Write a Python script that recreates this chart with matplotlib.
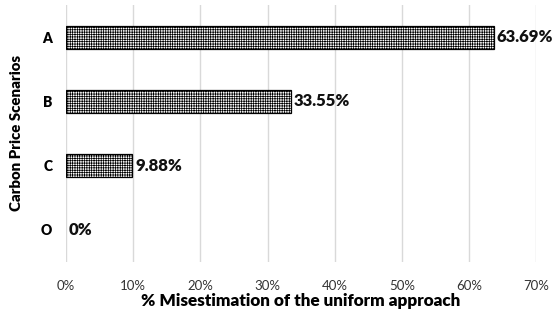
import matplotlib
matplotlib.use("Agg")
import matplotlib.pyplot as plt
from matplotlib.ticker import FuncFormatter

plt.rcParams['font.family'] = ['Lato', 'DejaVu Sans']
plt.rcParams['hatch.linewidth'] = 0.5

categories = ["A", "B", "C", "O"]
values = [63.69, 33.55, 9.88, 0.0]
labels = ["63.69%", "33.55%", "9.88%", "0%"]

fig = plt.figure(figsize=(5.55, 3.11), dpi=100)
ax = fig.add_axes([0.119, 0.158, 0.847, 0.826])

ypos = list(range(len(categories)))
bars = ax.barh(ypos, values, height=0.36, color="white", edgecolor="black",
               hatch="+++++++", linewidth=0.9, zorder=3)
for b in bars:
    if b.get_width() == 0:
        b.set_visible(False)

for y, v, lab in zip(ypos, values, labels):
    ax.text(v + 0.4, y, lab, va="center", ha="left", fontsize=12,
            fontweight="heavy", color="#111111", zorder=4)

ax.set_xlim(0, 70)
ax.set_ylim(3.5, -0.5)
ax.set_yticks(ypos)
ax.set_yticklabels(categories, fontsize=10, fontweight="heavy")
ax.set_xticks(range(0, 71, 10))
ax.xaxis.set_major_formatter(FuncFormatter(lambda x, p: f"{int(x)}%"))
ax.tick_params(axis="x", labelsize=9.5, length=0, pad=13, colors="#333333")
ax.tick_params(axis="y", length=0, pad=10)
ax.grid(axis="x", color="#d9d9d9", linewidth=1, zorder=0)
for s in ax.spines.values():
    s.set_visible(False)

ax.set_xlabel("% Misestimation of the uniform approach", fontsize=12.3,
              fontweight="heavy", labelpad=1)
ax.set_ylabel("Carbon Price Scenarios", fontsize=10.8, fontweight="heavy")
ax.yaxis.set_label_coords(-0.092, 0.5)

fig.savefig("out.png", dpi=100)
